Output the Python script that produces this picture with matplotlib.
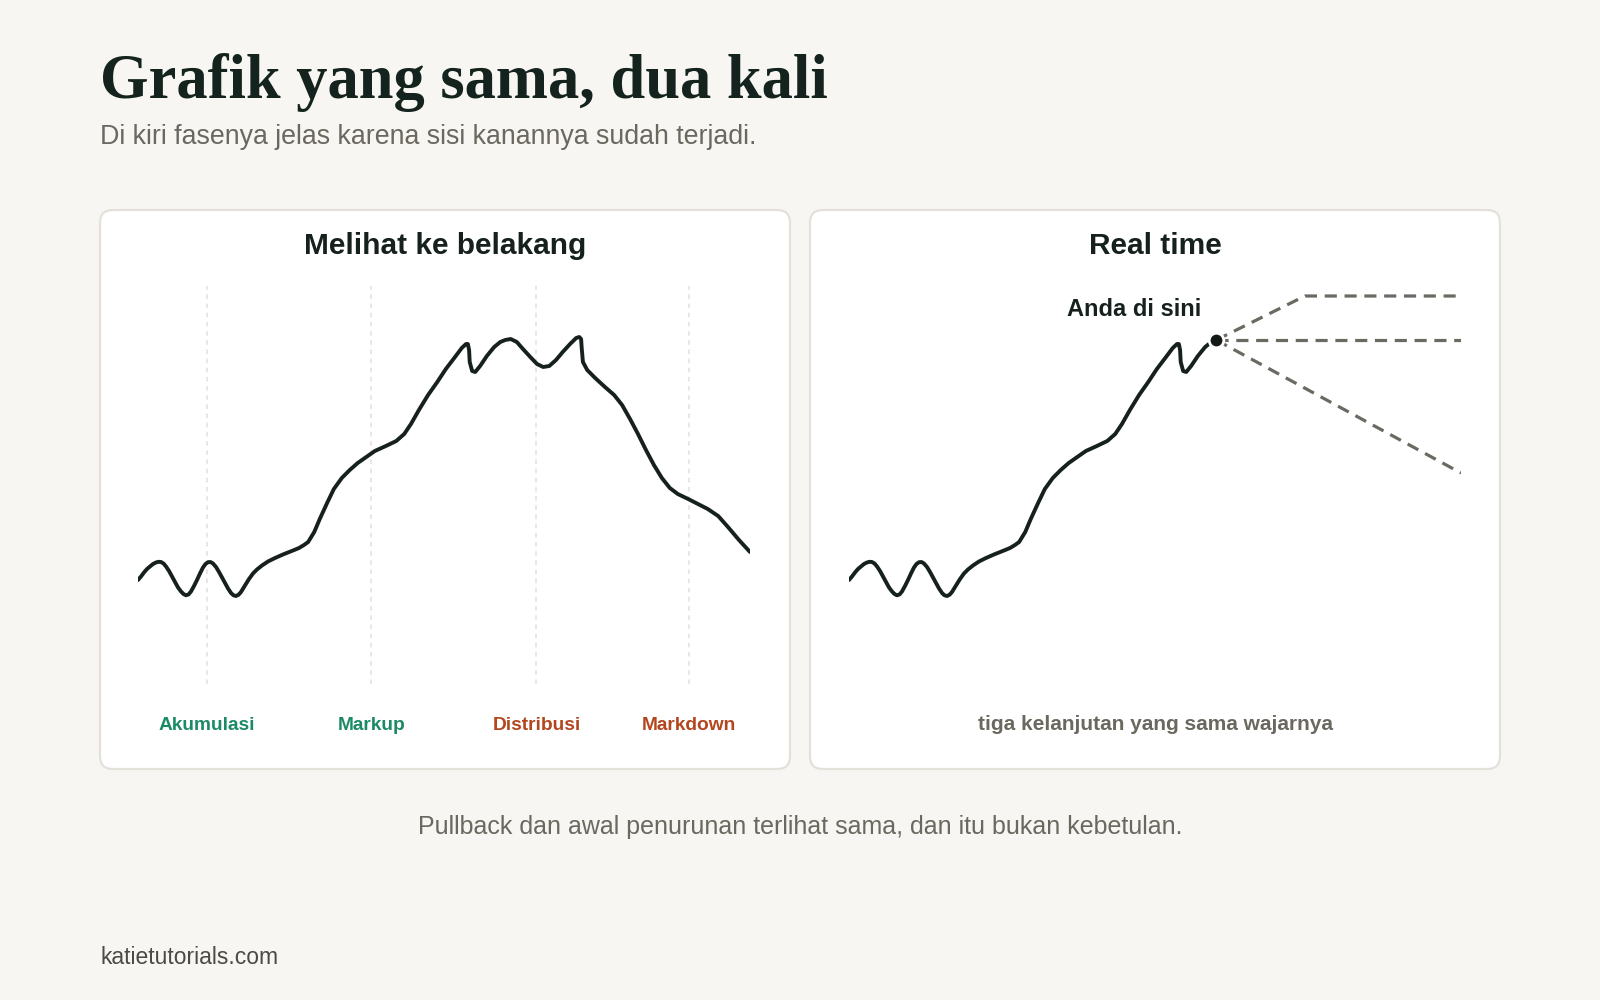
import matplotlib
matplotlib.use("Agg")
import matplotlib.pyplot as plt
from matplotlib.patches import FancyBboxPatch

plt.rcParams['font.family'] = ['Liberation Sans', 'DejaVu Sans']

# price path (time 0-100, price index)
t = [0.0, 0.49, 0.98, 1.47, 1.96, 2.45, 2.94, 3.35, 3.76, 4.17,
     4.58, 5.07, 5.56, 6.05, 6.54, 7.03, 7.43, 7.84, 8.25, 8.66,
     9.15, 9.64, 10.13, 10.62, 11.03, 11.44, 11.85, 12.25, 12.75, 13.24,
     13.73, 14.22, 14.71, 15.2, 15.6, 16.01, 16.42, 16.83, 17.48, 18.14,
     18.79, 19.44, 20.26, 21.24, 22.39, 23.69, 25.33, 26.31, 27.12, 27.8,
     28.8, 29.7, 30.9, 32.0, 33.3, 34.6, 35.9, 37.3, 38.7, 40.5,
     42.2, 43.5, 44.6, 45.9, 47.4, 48.9, 50.3, 51.8, 52.9, 53.6,
     53.9, 54.1, 54.2, 54.6, 55.1, 55.9, 57.0, 58.2, 59.2, 60.0,
     60.9, 61.9, 62.9, 64.1, 65.2, 66.2, 67.2, 68.3, 69.4, 70.6,
     71.6, 72.1, 72.4, 72.5, 72.7, 73.4, 74.7, 76.3, 77.8, 79.1,
     80.4, 81.7, 83.0, 84.3, 85.6, 86.9, 88.2, 89.9, 91.5, 93.1,
     94.8, 96.4, 98.2, 100.0]
price = [100.0, 100.88, 101.88, 102.75, 103.38, 104.0, 104.38, 104.55, 104.5, 104.13,
         103.38, 102.25, 100.88, 99.5, 98.13, 97.13, 96.5, 96.18, 96.38, 97.13,
         98.5, 100.0, 101.63, 103.13, 104.0, 104.45, 104.5, 104.13, 103.25, 102.0,
         100.63, 99.25, 97.88, 96.75, 96.18, 96.0, 96.3, 97.0, 98.63, 100.25,
         101.63, 102.63, 103.63, 104.63, 105.5, 106.38, 107.38, 108.0, 108.75, 109.5,
         112.0, 115.25, 119.25, 122.75, 125.5, 127.5, 129.25, 130.75, 132.25, 133.5,
         134.75, 136.5, 139.0, 142.5, 146.25, 149.5, 152.75, 155.75, 158.0, 159.0,
         159.0, 157.5, 154.5, 152.25, 152.0, 153.5, 156.0, 158.25, 159.5, 160.0,
         160.25, 159.5, 157.75, 155.75, 154.0, 153.25, 153.5, 155.0, 157.0, 159.0,
         160.5, 160.75, 160.25, 158.0, 154.5, 152.5, 150.5, 148.25, 146.25, 143.75,
         140.25, 136.5, 132.5, 128.75, 125.5, 123.0, 121.5, 120.25, 119.0, 117.75,
         116.0, 113.25, 110.0, 107.0]

now_t = 60.0
phases = ['Akumulasi', 'Markup', 'Distribusi', 'Markdown']
phase_t = [11.3, 38.1, 65.1, 90.0]
phase_colors = ['#1b8a65', '#1b8a65', '#b3461e', '#b3461e']

# three possible continuations from "now"
up_t, up_p = [60.0, 74.5, 100.0], [160.0, 171.0, 171.0]
flat_t, flat_p = [60.0, 100.0], [160.0, 160.0]
down_t, down_p = [60.0, 100.0], [160.0, 126.75]

BG = '#f7f6f2'
INK = '#16211d'
GREY = '#6b685f'

W, H = 1600, 1000
fig = plt.figure(figsize=(16, 10), dpi=100, facecolor=BG)


def fx(px):
    return px / W


def fy(py):
    return 1 - py / H


# header
fig.text(fx(100), fy(98), 'Grafik yang sama, dua kali', family=['Liberation Serif', 'DejaVu Serif'],
         fontweight='bold', fontsize=45, color='#14231d', ha='left', va='baseline')
fig.text(fx(100), fy(137), 'Di kiri fasenya jelas karena sisi kanannya sudah terjadi.',
         fontsize=19.3, color=GREY, ha='left', va='center')

# panel cards (behind the axes)
for x0 in [100, 810]:
    card = FancyBboxPatch((fx(x0), fy(769)), fx(690), 559 / H,
                          boxstyle='round,pad=0,rounding_size=0.008',
                          transform=fig.transFigure, facecolor='white',
                          edgecolor='#e3e1da', linewidth=1.6, mutation_aspect=1.6,
                          zorder=-1)
    fig.patches.append(card)

fig.text(fx(445), fy(246), 'Melihat ke belakang', fontsize=21.5, fontweight='bold',
         color=INK, ha='center', va='center')
fig.text(fx(1155), fy(246), 'Real time', fontsize=21.5, fontweight='bold',
         color=INK, ha='center', va='center')

# left: hindsight
ax1 = fig.add_axes([fx(138), fy(700), 612 / W, 440 / H])
ax1.set_xlim(0, 100)
ax1.set_ylim(70, 180)
ax1.set_axis_off()
ax1.vlines(phase_t, 74, 173.5, colors='#e2e0da', linestyles=(0, (3, 3)), linewidth=1.1)
ax1.plot(t, price, color=INK, lw=2.8, solid_joinstyle='round', solid_capstyle='round')
for name, pt, c in zip(phases, phase_t, phase_colors):
    ax1.text(pt, 63.75, name, ha='center', va='center', fontsize=13.75,
             fontweight='bold', color=c)

# right: real time
k = t.index(now_t) + 1
ax2 = fig.add_axes([fx(849), fy(700), 612 / W, 440 / H])
ax2.set_xlim(0, 100)
ax2.set_ylim(70, 180)
ax2.set_axis_off()
for st, sp in [(up_t, up_p), (flat_t, flat_p), (down_t, down_p)]:
    ax2.plot(st, sp, color='#6b6a62', lw=2.3, linestyle=(0, (3.8, 2.4)))
ax2.plot(t[:k], price[:k], color=INK, lw=2.8, solid_joinstyle='round', solid_capstyle='round')
ax2.plot([now_t], [price[k - 1]], 'o', ms=10.5, mfc='#111a16', mec='white', mew=2, zorder=5)
ax2.annotate('Anda di sini', (now_t, price[k - 1]), xytext=(-82, 30), textcoords='offset pixels',
             ha='center', va='center', fontsize=17, fontweight='bold', color=INK)

fig.text(fx(1155), fy(725), 'tiga kelanjutan yang sama wajarnya', fontsize=15,
         fontweight='bold', color=GREY, ha='center', va='center')

# footer
fig.text(fx(800), fy(827), 'Pullback dan awal penurunan terlihat sama, dan itu bukan kebetulan.',
         fontsize=18, color=GREY, ha='center', va='center')
fig.text(fx(100), fy(957), 'katietutorials.com', fontsize=16.5, color='#4c4a44',
         ha='left', va='center')

fig.savefig('out.png', dpi=100, facecolor=BG)
